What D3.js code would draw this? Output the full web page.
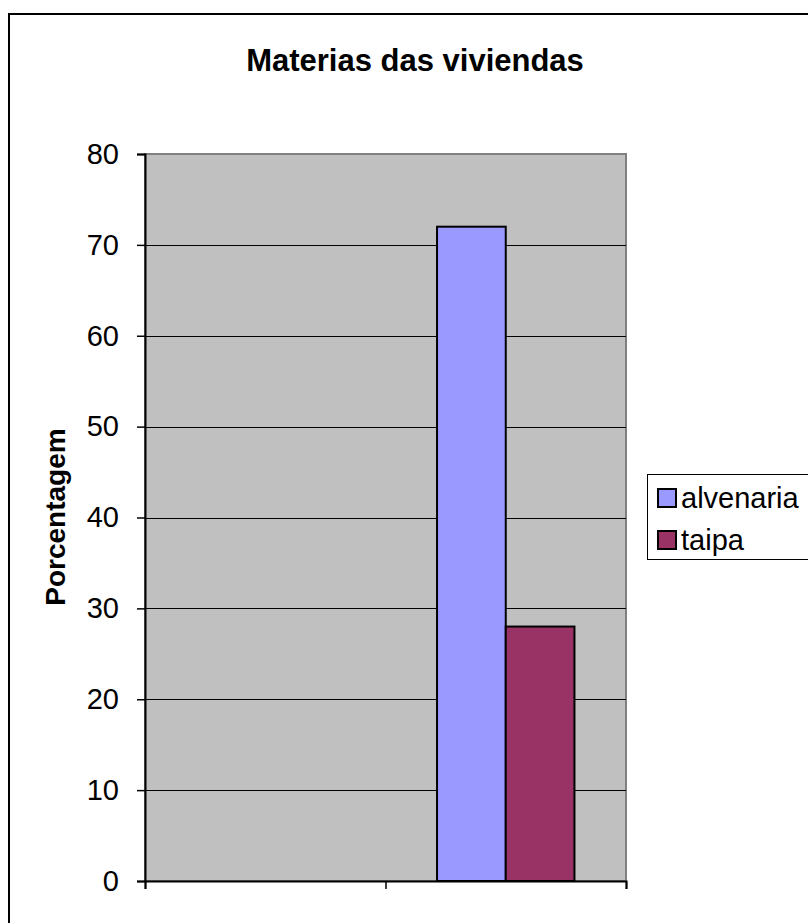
<!DOCTYPE html>
<html>
<head>
<meta charset="utf-8">
<script src="https://cdn.jsdelivr.net/npm/d3@7"></script>
<style>
  html, body { margin: 0; padding: 0; background: #fff; }
  svg { display: block; font-family: "Liberation Sans", Arial, sans-serif; }
</style>
</head>
<body>
<svg id="chart" width="808" height="923"></svg>
<script>
// Housing material shares (%), one group of bars per category
const categories = ["", "1"];
const seriesNames = ["alvenaria", "taipa"];
const seriesColors = ["#9999FF", "#993366"];
const alvenaria = [null, 72];
const taipa = [null, 28];
const yTicks = [0, 10, 20, 30, 40, 50, 60, 70, 80];
const titleText = "Materias das viviendas";
const yTitleText = "Porcentagem";

const svg = d3.select("#chart");
const W = 808, H = 923;

// outer chart frame (runs off the right/bottom edge)
svg.append("rect")
  .attr("x", 9).attr("y", 14)
  .attr("width", W + 20).attr("height", H + 20)
  .attr("fill", "#fff").attr("stroke", "#000").attr("stroke-width", 2);

const plot = { left: 145, top: 154, right: 626, bottom: 881 };

const x = d3.scaleBand().domain(categories)
  .range([plot.left, plot.right]).paddingInner(0).paddingOuter(0);
const y = d3.scaleLinear().domain([0, 80]).range([plot.bottom, plot.top]);

// plot background
svg.append("rect")
  .attr("x", plot.left).attr("y", plot.top)
  .attr("width", plot.right - plot.left).attr("height", plot.bottom - plot.top)
  .attr("fill", "#C0C0C0").attr("stroke", "#808080").attr("stroke-width", 2);

// horizontal gridlines
svg.append("g").selectAll("line")
  .data(yTicks.filter(d => d > 0 && d < 80))
  .join("line")
  .attr("x1", plot.left).attr("x2", plot.right)
  .attr("y1", d => Math.round(y(d)) + 0.5).attr("y2", d => Math.round(y(d)) + 0.5)
  .attr("stroke", "#000").attr("stroke-width", 1);

// bars: gap width 150% of a bar width
const seriesData = [alvenaria, taipa];
const barW = x.bandwidth() / (seriesData.length + 1.5);
const groupOffset = (x.bandwidth() - barW * seriesData.length) / 2;
seriesData.forEach((vals, si) => {
  svg.append("g").selectAll("rect")
    .data(categories.map((c, i) => ({ c, v: vals[i] })).filter(d => d.v != null))
    .join("rect")
    .attr("x", d => x(d.c) + groupOffset + si * barW)
    .attr("y", d => y(d.v))
    .attr("width", barW)
    .attr("height", d => y(0) - y(d.v))
    .attr("fill", seriesColors[si])
    .attr("stroke", "#000").attr("stroke-width", 2);
});

// y axis
const yAxis = d3.axisLeft(y).tickValues(yTicks).tickSize(8).tickPadding(18);
const gy = svg.append("g").attr("transform", `translate(${plot.left},0)`).call(yAxis);
gy.select(".domain").attr("stroke", "#000").attr("stroke-width", 2);
gy.selectAll(".tick line").attr("stroke", "#000").attr("stroke-width", 1.5);
gy.selectAll(".tick text")
  .attr("font-size", 29).attr("font-family", "Liberation Sans, Arial, sans-serif")
  .attr("fill", "#000");

// x axis (category ticks between groups, no labels)
const xLin = d3.scaleLinear().domain([0, categories.length]).range([plot.left, plot.right]);
const xAxis = d3.axisBottom(xLin).tickValues(d3.range(categories.length + 1))
  .tickSize(8).tickFormat("");
const gx = svg.append("g").attr("transform", `translate(0,${plot.bottom})`).call(xAxis);
gx.select(".domain").attr("stroke", "#000").attr("stroke-width", 2);
gx.selectAll(".tick line").attr("stroke", "#000").attr("stroke-width", 1.5);

// title
svg.append("text")
  .attr("x", 415).attr("y", 71)
  .attr("text-anchor", "middle")
  .attr("font-size", 31).attr("font-weight", "bold")
  .text(titleText);

// y axis title
svg.append("text")
  .attr("transform", "translate(65,517) rotate(-90)")
  .attr("text-anchor", "middle")
  .attr("font-size", 28).attr("font-weight", "bold")
  .text(yTitleText);

// legend
const lg = svg.append("g");
lg.append("rect")
  .attr("x", 647.5).attr("y", 474.5).attr("width", 200).attr("height", 85)
  .attr("fill", "#fff").attr("stroke", "#000").attr("stroke-width", 1);
seriesNames.forEach((name, i) => {
  const cy = 498 + i * 42;
  lg.append("rect")
    .attr("x", 658).attr("y", cy - 9).attr("width", 18).attr("height", 18)
    .attr("fill", seriesColors[i]).attr("stroke", "#000").attr("stroke-width", 2);
  lg.append("text")
    .attr("x", 681).attr("y", cy + 10)
    .attr("font-size", 29)
    .text(name);
});
</script>
</body>
</html>
